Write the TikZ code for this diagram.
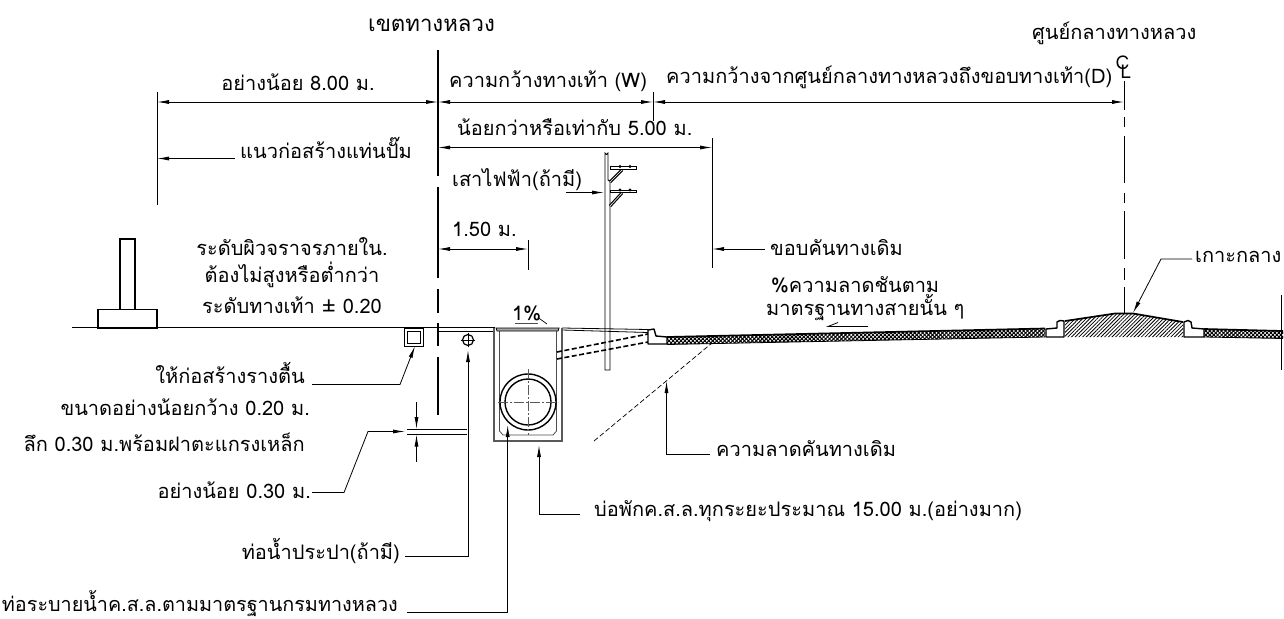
\documentclass[tikz,border=0pt]{standalone}
\usepackage{fontspec}
\usetikzlibrary{arrows.meta,patterns.meta}
\setmainfont[Script=Thai]{Loma}
\tikzset{
  lbl/.style={inner sep=0pt,font=\fontsize{20}{22}\selectfont,text=black},
  dim/.style={line width=.8pt,{Latex[length=12pt,width=4pt]}-{Latex[length=12pt,width=4pt]}},
  lead/.style={line width=.8pt,-{Latex[length=12pt,width=4pt]}},
  ext/.style={line width=.9pt},
  thick line/.style={line width=1.5pt},
  gray line/.style={line width=1.2pt,draw=black!65},
  cen/.style={line width=.7pt,draw=black!65,dash pattern=on 10pt off 2pt on 2pt off 2pt},
  boundary/.style={line width=1.4pt},
  curbshape/.style={line width=1.4pt,fill=white,line join=round},
}
\begin{document}
\begin{tikzpicture}[x=1pt,y=-1pt]
\useasboundingbox (0,0) rectangle (1284,618);
% ---- texts (all placed on their baselines)
\node[lbl,font=\fontsize{22.2}{24}\selectfont,anchor=base west] (title) at (368,32) {เขตทางหลวง};
\node[lbl,anchor=base west] (centre) at (1032,40) {ศูนย์กลางทางหลวง};
\node[lbl,anchor=base] (min8) at (298,90) {อย่างน้อย 8.00 ม.};
\node[lbl,anchor=base west] (w) at (449,88) {ความกว้างทางเท้า (W)};
\node[lbl,anchor=base west] (d) at (666,83) {ความกว้างจากศูนย์กลางทางหลวงถึงขอบทางเท้า(D)};
\node[lbl,anchor=base west] (le5) at (457,135) {น้อยกว่าหรือเท่ากับ 5.00 ม.};
\node[lbl,anchor=base west] (pump) at (240,158) {แนวก่อสร้างแท่นปั๊ม};
\node[lbl,anchor=base west] (polet) at (452,186.5) {เสาไฟฟ้า(ถ้ามี)};
\node[lbl,anchor=base west] (w15) at (452,236.5) {1.50 ม.};
\node[lbl,anchor=base west] (edge) at (770,255) {ขอบคันทางเดิม};
\node[lbl,anchor=base] (s1) at (292,255) {ระดับผิวจราจรภายใน.};
\node[lbl,anchor=base] (s2) at (292,282) {ต้องไม่สูงหรือต่ำกว่า};
\node[lbl,anchor=base] (s3) at (292,313) {ระดับทางเท้า ± 0.20};
\node[lbl,anchor=base west] (sl1) at (771,292) {\%ความลาดชันตาม};
\node[lbl,anchor=base west] (sl2) at (766,315) {มาตรฐานทางสายนั้น ๆ};
\node[lbl,anchor=base west] (island) at (1195,262) {เกาะกลาง};
\node[lbl,anchor=base west] (pct) at (512,320) {1\%};
\node[lbl,anchor=base east] (t1) at (305,383) {ให้ก่อสร้างรางตื้น};
\node[lbl,anchor=base east] (t2) at (310,415) {ขนาดอย่างน้อยกว้าง 0.20 ม.};
\node[lbl,anchor=base east] (t3) at (305,451) {ลึก 0.30 ม.พร้อมฝาตะแกรงเหล็ก};
\node[lbl,anchor=base east] (t4) at (311,498) {อย่างน้อย 0.30 ม.};
\node[lbl,anchor=base east] (t5) at (400,559) {ท่อน้ำประปา(ถ้ามี)};
\node[lbl,font=\fontsize{19.8}{22}\selectfont,anchor=base east] (t6) at (398,611.5) {ท่อระบายน้ำค.ส.ล.ตามมาตรฐานกรมทางหลวง};
\node[lbl,anchor=base west] (slope) at (716,456) {ความลาดคันทางเดิม};
\node[lbl,anchor=base west] (pit) at (594,516) {บ่อพักค.ส.ล.ทุกระยะประมาณ 15.00 ม.(อย่างมาก)};
% ---- named reference points
\coordinate (bl) at (438,102);
\coordinate (pa) at (157,102);
\coordinate (wa) at (653,102);
\coordinate (cl) at (1124,102);
\coordinate (five) at (712,147.5);
\coordinate (fivel) at (438,147.5);
% ---- boundary line
\foreach \a/\b in {50/176,187/278,289/313,323/346,357/415} \draw[boundary] (438,\a)--(438,\b);
% ---- centre line
\foreach \a/\b in {81/110,117/127,136/183,193/203,211/259,268/280,287/313} \draw[ext] (cl |- 0,\a)--(cl |- 0,\b);
% ---- dimension lines
\draw[ext] (157,92)--(157,205);
\draw[ext] (653,92)--(653,121);
\draw[ext] (712,138)--(712,268);
\draw[ext] (528,240)--(528,270);
\draw[dim] (pa)--(bl);
\draw[dim] (bl)--(wa);
\draw[dim] (wa)--(cl);
\draw[dim] (fivel)--(five);
\coordinate (w15a) at (438,249); \coordinate (w15b) at (528,249);
\draw[dim] (w15a)--(w15b);
\coordinate (pumpa) at (157,158.5);
\draw[lead] (235,158.5)--(pumpa);
\coordinate (edgea) at (712,249);
\draw[lead] (765,249)--(edgea);
% ---- CL symbol
\node[inner sep=0pt,font=\fontsize{19}{20}\selectfont] (cs) at (1122.5,63) {C};
\node[inner sep=0pt,font=\fontsize{19}{20}\selectfont] (ls) at (1126,72) {L};
% ---- ground left, pump island
\draw[line width=.9pt] (72,327.5)--(438,327.5);
\draw[thick line] (98,328)rectangle(157,309.5);
\draw[thick line] (120,309.5)rectangle(135,239);
% ---- shallow drain
\draw[line width=.8pt] (404,328)rectangle(423,346);
\draw[line width=1pt] (407,331)rectangle(420,343);
\coordinate (drain) at (415,346);
\draw[lead] (312,384.5)--(400,384.5)--(drain);
% ---- sidewalk
\draw[line width=.8pt] (438,327.5)--(495,327.5);
\draw[line width=.8pt] (438,331)--(495,331);
\draw[line width=.8pt] (562,328)--(648,329.5);
\draw[line width=.8pt] (562,330)--(648,332.5);
% ---- 0.30 m
\draw[line width=.8pt] (407,429)--(467,429);
\draw[line width=.8pt] (407,434.5)--(467,434.5);
\draw[lead] (416.5,402)--(416.5,429);
\draw[lead] (416.5,462)--(416.5,434.5);
\draw[lead] (312,492.5)--(344,492.5)--(368,431.5)--(405,431.5);
% ---- water pipe
\node[circle,draw,line width=1.2pt,minimum size=11pt,inner sep=0pt] (wp) at (468,340) {};
\draw[line width=.7pt] (461,340)--(475,340) (468,333)--(468,347);
\draw[lead] (405,556)--(468,556)--(wp.south |- 0,350);
% ---- manhole
\draw[gray line] (494,328)--(494,441)--(562,441)--(562,328);
\draw[line width=.8pt,draw=black!70] (499.5,331)--(499.5,431)--(503,435)--(553,435)--(556.5,431)--(556.5,331);
\draw[line width=.8pt,fill=black!35] (496,328)--(559,328)--(558,331)--(497,331)--cycle;
\node[circle,draw,line width=1.4pt,minimum size=56pt,inner sep=0pt] (po) at (528,402) {};
\node[circle,draw,line width=1.4pt,minimum size=46pt,inner sep=0pt] (pi) at (528,402) {};
\draw[cen] (498,402)--(558,402);
\draw[cen] (528,369)--(528,435);
\coordinate (pipein) at (507.7,425);
\draw[lead] (407,612)--(507.7,612)--(pipein);
\coordinate (pitb) at (539,445);
\draw[lead] (580,514)--(539,514)--(pitb);
% 1%
\draw[line width=.8pt,draw=black!70] (515,323.5)--(538,323.5);
\draw[line width=.7pt] (538,317.5)--(547,324);
% ---- dashed conduits
\draw[line width=1.6pt,dash pattern=on 5pt off 2.5pt] (557,352)--(648,334);
\draw[line width=1.6pt,dash pattern=on 5pt off 2.5pt] (557,359)--(648,342);
% ---- pole
\draw[line width=.9pt] (605,370)--(605,153) arc(180:0:1.5)--(608,180)--(610,181)--(610,370)--cycle;
\draw[line width=.9pt,fill=white] (610,166.5)rectangle(636,169);
\draw[line width=.9pt,fill=white] (610,190)rectangle(636,192.5);
\draw[line width=1.2pt,double=white,double distance=.6pt] (610,182)--(622,170);
\draw[line width=1.2pt,double=white,double distance=.6pt] (610,206)--(622,193);
\fill (620,166.5) circle(1.6) (630,166.5) circle(1.6) (620,190) circle(1.6) (630,190) circle(1.6);
\coordinate (polea) at (604,192.5);
\draw[lead] (566,192.5)--(polea);
% ---- pavement
\foreach \pts in {{(667,337)--(1045,328.5)--(1045,337)--(667,344.5)--cycle},{(1204,329)--(1283,331)--(1283,338.5)--(1204,337)--cycle}}{
  \path[pattern={Lines[angle=45,distance=2.8pt,line width=1pt]}] \pts;
  \path[pattern={Lines[angle=-45,distance=2.8pt,line width=1pt]}] \pts;
}
\draw[line width=1.7pt] (667,337)--(1045,328.5);
\draw[line width=.8pt] (667,344.5)--(1045,337);
\draw[line width=1.7pt] (1204,329)--(1283,331);
\draw[line width=.8pt] (1204,337)--(1283,338.5);
% ---- curbs
\draw[curbshape] (648,344)--(648,330)--(654,329)--(656,336)--(667,337)--(667,344)--cycle;
\draw[curbshape] (1046,337)--(1046,329)--(1057,328)--(1057,322)--(1060,320.5)--(1064,321)--(1064,337)--cycle;
\draw[curbshape] (1184,337)--(1184,322)--(1188,320.5)--(1191,322)--(1192,328)--(1204,329)--(1204,337)--cycle;
% ---- island
\path[pattern={Lines[angle=45,distance=2.6pt,line width=.8pt]}] (1065,321)--(1115,313.5)--(1133,313.5)--(1183,322)--(1183,337)--(1065,337)--cycle;
\draw[line width=1.7pt] (1065,321)--(1115,313.5)--(1133,313.5)--(1183,322);
\coordinate (isl) at (1133,313);
\draw[lead] (1192,259)--(1161,259)--(isl);
\draw[ext] (1281.5,295)--(1281.5,370);
% ---- slope arrow and old embankment
\draw[line width=.8pt] (868,326.5)--(828,326.5)--(838,322.5);
\draw[line width=.7pt,dash pattern=on 5pt off 2.5pt] (594,441)--(712,343);
\coordinate (slp) at (666.5,381);
\draw[lead] (710,454)--(666.5,454)--(slp);
\end{tikzpicture}
\end{document}
